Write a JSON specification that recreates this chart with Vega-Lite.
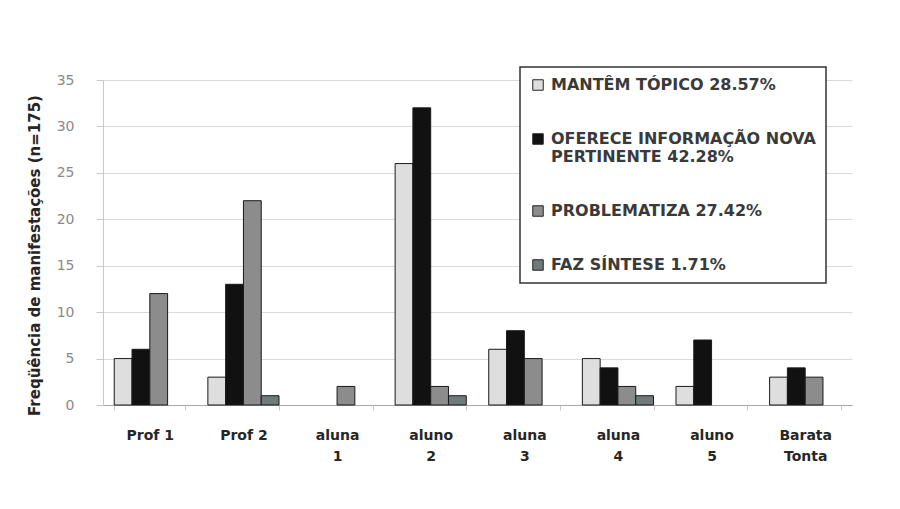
{
  "$schema": "https://vega.github.io/schema/vega-lite/v6.json",
  "autosize": "none",
  "width": 749,
  "height": 325,
  "padding": {"left": 103, "top": 80, "right": 48, "bottom": 104},
  "background": "white",
  "data": {
    "values": [
      {"participante": "Prof 1", "categoria": "MANTÊM TÓPICO 28.57%", "valor": 5},
      {"participante": "Prof 1", "categoria": "OFERECE INFORMAÇÃO NOVA PERTINENTE 42.28%", "valor": 6},
      {"participante": "Prof 1", "categoria": "PROBLEMATIZA 27.42%", "valor": 12},
      {"participante": "Prof 1", "categoria": "FAZ SÍNTESE 1.71%", "valor": 0},
      {"participante": "Prof 2", "categoria": "MANTÊM TÓPICO 28.57%", "valor": 3},
      {"participante": "Prof 2", "categoria": "OFERECE INFORMAÇÃO NOVA PERTINENTE 42.28%", "valor": 13},
      {"participante": "Prof 2", "categoria": "PROBLEMATIZA 27.42%", "valor": 22},
      {"participante": "Prof 2", "categoria": "FAZ SÍNTESE 1.71%", "valor": 1},
      {"participante": "aluna 1", "categoria": "MANTÊM TÓPICO 28.57%", "valor": 0},
      {"participante": "aluna 1", "categoria": "OFERECE INFORMAÇÃO NOVA PERTINENTE 42.28%", "valor": 0},
      {"participante": "aluna 1", "categoria": "PROBLEMATIZA 27.42%", "valor": 2},
      {"participante": "aluna 1", "categoria": "FAZ SÍNTESE 1.71%", "valor": 0},
      {"participante": "aluno 2", "categoria": "MANTÊM TÓPICO 28.57%", "valor": 26},
      {"participante": "aluno 2", "categoria": "OFERECE INFORMAÇÃO NOVA PERTINENTE 42.28%", "valor": 32},
      {"participante": "aluno 2", "categoria": "PROBLEMATIZA 27.42%", "valor": 2},
      {"participante": "aluno 2", "categoria": "FAZ SÍNTESE 1.71%", "valor": 1},
      {"participante": "aluna 3", "categoria": "MANTÊM TÓPICO 28.57%", "valor": 6},
      {"participante": "aluna 3", "categoria": "OFERECE INFORMAÇÃO NOVA PERTINENTE 42.28%", "valor": 8},
      {"participante": "aluna 3", "categoria": "PROBLEMATIZA 27.42%", "valor": 5},
      {"participante": "aluna 3", "categoria": "FAZ SÍNTESE 1.71%", "valor": 0},
      {"participante": "aluna 4", "categoria": "MANTÊM TÓPICO 28.57%", "valor": 5},
      {"participante": "aluna 4", "categoria": "OFERECE INFORMAÇÃO NOVA PERTINENTE 42.28%", "valor": 4},
      {"participante": "aluna 4", "categoria": "PROBLEMATIZA 27.42%", "valor": 2},
      {"participante": "aluna 4", "categoria": "FAZ SÍNTESE 1.71%", "valor": 1},
      {"participante": "aluno 5", "categoria": "MANTÊM TÓPICO 28.57%", "valor": 2},
      {"participante": "aluno 5", "categoria": "OFERECE INFORMAÇÃO NOVA PERTINENTE 42.28%", "valor": 7},
      {"participante": "aluno 5", "categoria": "PROBLEMATIZA 27.42%", "valor": 0},
      {"participante": "aluno 5", "categoria": "FAZ SÍNTESE 1.71%", "valor": 0},
      {"participante": "Barata Tonta", "categoria": "MANTÊM TÓPICO 28.57%", "valor": 3},
      {"participante": "Barata Tonta", "categoria": "OFERECE INFORMAÇÃO NOVA PERTINENTE 42.28%", "valor": 4},
      {"participante": "Barata Tonta", "categoria": "PROBLEMATIZA 27.42%", "valor": 3},
      {"participante": "Barata Tonta", "categoria": "FAZ SÍNTESE 1.71%", "valor": 0}
    ]
  },
  "transform": [{"filter": "datum.valor > 0"}],
  "mark": {"type": "bar", "stroke": "#1a1a1a", "strokeWidth": 1},
  "encoding": {
    "x": {
      "field": "participante",
      "type": "nominal",
      "sort": ["Prof 1", "Prof 2", "aluna 1", "aluno 2", "aluna 3", "aluna 4", "aluno 5", "Barata Tonta"],
      "scale": {"paddingInner": 0.24, "paddingOuter": 0.12},
      "axis": {
        "title": null,
        "labelAngle": 0,
        "labelExpr": "indexof(datum.label, 'Prof') == 0 ? datum.label : split(datum.label, ' ')",
        "labelFont": "DejaVu Sans",
        "labelFontWeight": "bold",
        "labelFontSize": 14,
        "labelColor": "#262626",
        "labelLineHeight": 21,
        "labelPadding": 18,
        "labelBaseline": "top",
        "tickBand": "extent",
        "tickSize": 5,
        "tickColor": "#c8c8c8",
        "domainColor": "#a8a8a8",
        "grid": false
      }
    },
    "xOffset": {
      "field": "categoria",
      "type": "nominal",
      "scale": {
        "domain": ["MANTÊM TÓPICO 28.57%", "OFERECE INFORMAÇÃO NOVA PERTINENTE 42.28%", "PROBLEMATIZA 27.42%", "FAZ SÍNTESE 1.71%"],
        "paddingInner": 0,
        "paddingOuter": 0
      }
    },
    "y": {
      "field": "valor",
      "type": "quantitative",
      "scale": {"domain": [0, 35]},
      "axis": {
        "title": "Freqüência de manifestações (n=175)",
        "titleFont": "DejaVu Sans",
        "titleFontWeight": "bold",
        "titleFontSize": 15,
        "titleColor": "#262626",
        "titleX": -61,
        "titleY": 175,
        "values": [0, 5, 10, 15, 20, 25, 30, 35],
        "labelFont": "DejaVu Sans",
        "labelFontSize": 14,
        "labelColor": "#8a8a8a",
        "labelPadding": 22,
        "tickSize": 7,
        "tickColor": "#c8c8c8",
        "domainColor": "#c8c8c8",
        "gridColor": "#dadada",
        "gridWidth": 1
      }
    },
    "color": {
      "field": "categoria",
      "type": "nominal",
      "scale": {
        "domain": ["MANTÊM TÓPICO 28.57%", "OFERECE INFORMAÇÃO NOVA PERTINENTE 42.28%", "PROBLEMATIZA 27.42%", "FAZ SÍNTESE 1.71%"],
        "range": ["#dedede", "#111111", "#8c8c8c", "#6f7b7b"]
      },
      "legend": {
        "title": null,
        "orient": "none",
        "legendX": 417,
        "legendY": -13,
        "padding": 10,
        "fillColor": "white",
        "strokeColor": "#333333",
        "rowPadding": 38,
        "symbolType": "square",
        "symbolSize": 110,
        "symbolStrokeColor": "#222222",
        "symbolStrokeWidth": 1,
        "symbolOpacity": 1,
        "labelFont": "DejaVu Sans",
        "labelFontSize": 16,
        "labelFontWeight": "bold",
        "labelColor": "#3a3a3a",
        "labelLimit": 400,
        "labelOffset": 5,
        "labelExpr": "indexof(datum.label, 'OFERECE') == 0 ? ['OFERECE INFORMAÇÃO NOVA', 'PERTINENTE 42.28%'] : datum.label",
        "encode": {"legend": {"update": {"strokeWidth": {"value": 1.5}}}}
      }
    }
  },
  "config": {"view": {"stroke": null}}
}
